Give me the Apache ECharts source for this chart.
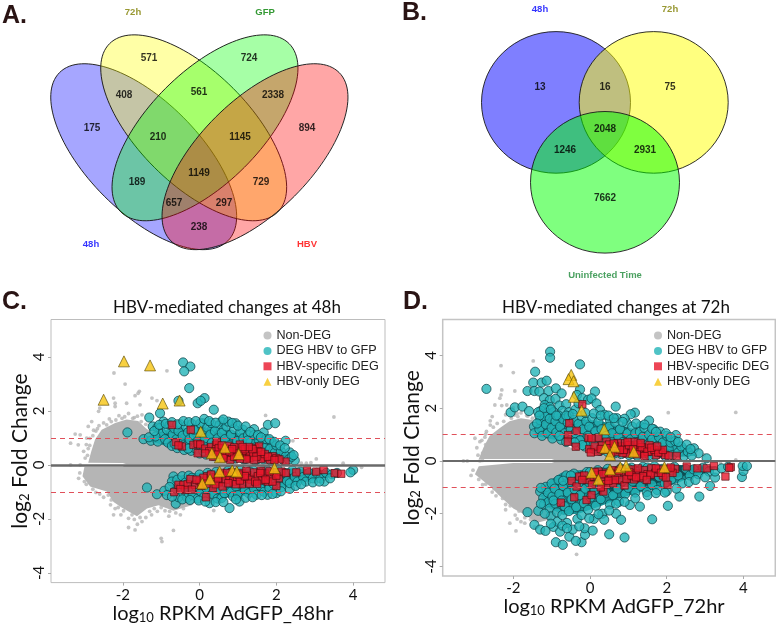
<!DOCTYPE html>
<html><head><meta charset="utf-8">
<style>html,body{margin:0;padding:0;background:#fff}#c{width:776px;height:625px}</style>
<script src="https://cdn.jsdelivr.net/npm/echarts@6/dist/echarts.min.js"></script>
</head><body><div id="c"></div>
<script>
// ---------- Venn counts ----------
const vennACounts=[571,724,408,561,2338,175,210,1145,894,1149,189,729,657,297,238];
const vennASetNames=['72h','GFP','48h','HBV'];
const vennBCounts=[13,16,75,2048,1246,2931,7662];
const vennBSetNames=['48h','72h','Uninfected Time'];
const xTicks=[-2,0,2,4];
const yTicks=[-4,-2,0,2,4];
// ---------- Panel C values (log10 RPKM, log2 FC) ----------
const cloudCUpper=[[-2.9,.08],[-2.82,.5],[-2.72,.95],[-2.55,1.3],[-2.2,1.55],[-1.9,1.68],[-1.6,1.62],[-1.4,1.35],[-1,.95],[0,.5],[1,.12],[1,.02],[-1.9,.02],[-2,.07]];
const cloudCLower=[[-3,-.08],[-3.05,-.42],[-2.85,-.8],[-2.42,-.99],[-2.24,-1.38],[-2.03,-1.58],[-1.63,-1.9],[-1.37,-1.62],[-1.07,-1.5],[-.68,-1.7],[-.2,-1.5],[1,-.12],[1,-.02],[-1.95,-.02],[-2,-.08]];
const tealCoreCUpper=[[-1.35,.9],[-1,1.25],[-.6,1.35],[0,1.4],[.6,1.35],[1.2,1.1],[1.7,.9],[2.1,.6],[2.45,.25],[2.4,.13],[1,.14],[.5,.2],[0,.35],[-.5,.52],[-1,.75]];
const tealCoreCLower=[[-.75,-.45],[-.7,-.95],[-.3,-1.1],[.3,-1.25],[1,-1.2],[1.6,-1],[2.3,-.8],[3,-.55],[3.6,-.38],[3.6,-.22],[2.5,-.13],[1,-.15],[.3,-.22],[-.3,-.35]];
const denseCUpper=[[-.2,.45],[.5,.55],[1.5,.5],[2.2,.3],[2.4,.14],[1,.15],[.3,.25]];
const denseCLower=[[-.2,-.45],[.5,-.8],[1.5,-.8],[2.5,-.5],[3,-.3],[2.5,-.14],[1,-.16],[.3,-.24]];
const grayC=[[-2.23,3.4],[-1.94,2.99],[-.85,3.48],[-1.57,2.72],[-1.6,2.65],[-1.24,2.47],[-1.11,2.38],[-2.24,2.47],[-2.2,2.28],[-2.2,2.16],[-2.6,2.1],[-2.63,1.98],[-1.68,2.56],[-1.9,2.28],[-1.55,2.22],[-3.11,1.11],[-3.24,1.14],[-3.36,.8],[-3.16,.74],[-3.36,0],[-3.11,0],[-2.94,.99],[-2.81,1.6],[-2.9,1.42],[-2.5,1.55],[-2.35,1.7],[-2.1,1.82],[-1.85,1.9],[-1.7,1.75],[-1.5,1.85],[-2.7,1.25],[-2.95,.75],[-3.02,.5],[-2.98,.25],[-2.62,1.45],[1.72,1.83],[3.5,1.77],[2.43,.89],[3.04,.22],[2.65,.06],[2.78,.06],[2.9,.08],[3.74,.06],[4.22,-.09],[.37,-1.69],[-.98,-2.84],[-1,-2.72],[-1.68,-2.41],[-1.85,-2.32],[-1.62,-2.2],[-.68,-2.43],[-2.24,-1.85],[-2.5,-1.2],[-2.7,-1.02],[-2.95,-.72],[-3.15,-.5],[-2.2,-1.62],[-2.05,-1.85],[-1.85,-1.98],[-1.4,-1.95],[-1.25,-1.85],[-1.1,-1.72],[-1.5,-2.1],[-.9,-1.7],[-.5,-1.85],[-.8,-1.9],
[-2.86,.72],[-2.78,1.08],[-2.66,1.34],[-2.42,1.48],[-2.3,1.6],[-2.02,1.72],[-1.74,1.72],[-1.52,1.6],[-1.62,1.8],[-1.95,1.78],[-2.18,1.66],[-1.4,1.5],[-1.28,1.3],[-2.76,1.28],[-2.9,.6],[-2.92,.35],[-2.86,.98],[-3.12,-.3],[-3.0,-.62],[-2.78,-.9],[-2.6,-1.08],[-2.38,-1.12],[-2.3,-1.3],[-2.32,-1.48],[-2.12,-1.58],[-1.98,-1.7],[-1.76,-1.85],[-1.7,-2.02],[-1.55,-1.95],[-1.3,-1.72],[-1.18,-1.62],[-1.0,-1.58],[-.78,-1.72],[-.62,-1.78],[-.42,-1.62]];
const tealC=[[-.43,3.79],[-.24,3.64],[-.4,3.46],[-.27,2.84],[-.55,2.37],[-.05,2.28],[-1.03,1.91],[-1.31,1.75],[-1.88,1.2],[.13,2.47],[.03,2.37],[.37,2.04],[.09,1.54],[.57,1.6],[.5,1.45],[.94,1.54],[.63,1.3],[.33,1.32],[1.13,1.3],[1.42,1.32],[1.67,1.2],[1.78,1.48],[1.97,1.54],[2.24,.89],[1.87,.86],[2.35,.46],[2.48,.16],
[-1.46,.95],[-1.27,.89],[-1.09,.86],[-1.22,1.42],[-1.1,1.38],[-.94,1.6],[-1.03,1.36],[-.98,1.15],[-1.15,1.05],[-.9,.95],[-.82,.82],[-.85,1.3],[-.78,1.48],[-.7,1.12],[-.72,.7],[-.66,1.35],[-.6,.95],[-.58,.62],[-.55,1.25],[-.5,1.5],[-.48,.82],[-.44,1.08],[-.4,.55],[-.36,1.42],[-.33,.72],[-.3,1.2],[-.26,.95],[-.22,.52],[-.2,1.52],[-.15,1.1],[-.12,.62],[-.08,1.35],[-.05,.88],[0,.42],[.02,1.54],[.06,1.2],[.1,.7],[.13,.98],[.17,.38],[.2,1.38],[.24,.58],[.28,1.12],[.32,.82],[.35,.34],[.4,1.25],[.43,.62],[.47,.98],[.5,.28],[.54,.78],[.58,1.18],[.62,.44],[.66,.95],[.7,1.42],[.74,.3],[.78,.72],[.82,1.12],[.86,.5],[.9,1.32],[.94,.24],[.98,.88],[1.02,.6],[1.06,1.2],[1.1,.32],[1.14,.98],[1.18,.72],[1.22,.22],[1.26,1.1],[1.3,.52],[1.34,.85],[1.38,.28],[1.42,1.1],[1.46,.65],[1.5,.2],[1.54,.92],[1.58,.42],[1.62,.75],[1.66,.2],[1.7,.62],[1.74,.95],[1.78,.35],[1.84,.6],[1.9,.2],[1.96,.45],[2,.72],[2.06,.28],[2.12,.5],[2.18,.18],[2.25,.32],[2.32,.2],[2.4,.3],[.3,1.55],[-.15,1.3],[.75,1.6],[1.25,.9],[-.65,.78],[-.3,.6],[.1,.5],[.45,.4],[.8,.26],[1.15,.2],[1.45,.16],[1.85,.16],
[-1.37,-.84],[-1.11,-1.09],[-.92,-.96],[-.62,-1.44],[-.68,-.43],[-.72,-.62],[-.78,-.82],[-.66,-1],[-.58,-.55],[-.55,-1.2],[-.5,-.85],[-.45,-.42],[-.42,-1.05],[-.36,-.65],[-.32,-1.22],[-.28,-.4],[-.24,-.92],[-.18,-1.12],[-.14,-.55],[-.1,-.8],[-.05,-1.25],[0,-.36],[.04,-1],[.08,-.62],[.12,-1.18],[.17,-.85],[.21,-.3],[.26,-1.42],[.3,-.55],[.34,-1.08],[.38,-.75],[.43,-.26],[.47,-1.25],[.52,-.9],[.57,-1.23],[.6,-.45],[.65,-1.05],[.7,-.68],[.74,-.22],[.78,-1.6],[.82,-1],[.87,-1.17],[.9,-.5],[.95,-.8],[1,-1.12],[1.04,-1.36],[1.08,-.2],[1.12,-.62],[1.18,-.95],[1.22,-.4],[1.28,-1.05],[1.33,-.7],[1.38,-.18],[1.42,-.88],[1.48,-1.11],[1.52,-.5],[1.58,-.78],[1.63,-.25],[1.68,-1],[1.72,-.6],[1.77,-1.11],[1.82,-.85],[1.88,-.35],[1.92,-.7],[2,-1.05],[2.03,-.16],[2.08,-.55],[2.14,-.82],[2.2,-.3],[2.28,-.6],[2.35,-.89],[2.35,-.68],[2.42,-.2],[2.48,-.45],[2.55,-.62],[2.62,-.25],[2.7,-.45],[2.77,-.62],[2.85,-.3],[2.95,-.5],[3.05,-.3],[3.15,-.5],[3.25,-.62],[3.3,-.3],[3.45,-.35],[3.58,-.3],[4,-.19],[3.93,-.28],[-.2,-.48],[.3,-.38],[.8,-.3],[1.3,-.24],[1.75,-.2],
[-1.32,1.02],[-1.18,1.25],[-1.05,1.48],[-.88,1.52],[-.72,1.58],[-.58,1.5],[-.42,1.62],[-.28,1.58],[-.1,1.62],[.12,1.7],[.25,1.62],[.42,1.56],[.62,1.68],[.85,1.55],[1.0,1.45],[1.2,1.42],[1.32,1.22],[1.52,1.1],[1.6,1.02],[1.82,.95],[1.95,.85],[2.1,.72],[2.22,.62],[2.45,.36],[-.85,-1.12],[-.72,-1.18],[-.45,-1.28],[-.25,-1.3],[-.02,-1.32],[.15,-1.36],[.42,-1.38],[.62,-1.38],[.95,-1.28],[1.2,-1.22],[1.38,-1.2],[1.62,-1.12],[1.9,-1.08],[2.12,-.98],[2.5,-.78],[2.65,-.72],[2.95,-.65],[3.12,-.62],[3.4,-.5]];
const redC=[[-.72,1.48],[-.23,1.3],[-.62,.84],[-.46,.68],[-.55,.72],[-.16,.74],[-.05,.78],[.02,.75],[-.05,.43],[.15,.6],[.3,.66],[.43,.74],[.45,.85],[.55,.48],[.65,.62],[.75,.7],[.72,.32],[.8,.19],[.85,.45],[.95,.55],[1.05,.75],[1.1,.38],[1.2,.3],[1.3,.25],[1.3,.5],[1.4,.4],[1.45,.62],[1.55,.68],[1.52,.5],[1.62,.35],[1.7,.25],[1.83,.19],[1.9,.32],[2,.25],[2.24,.12],[.98,.28],[1.12,.52],[1.6,.22],[.62,.38],
[.4,.5],[.5,.62],[.62,.25],[.9,.3],[.9,.65],[1.02,.42],[1.18,.58],[1.22,.2],[1.38,.58],[1.48,.3],[1.7,.4],[1.78,.3],[2.08,.2],[.35,.3],[.25,.5],[1.05,.22],[1.42,.18],[.78,.5],[.58,.72],[1.28,.66],[1.6,.48],[.15,.42],[1.95,.18],[.48,.38],[1.12,.66],[.85,.58],
[-.66,-1.01],[-.55,-.74],[-.42,-.74],[-.31,-.72],[-.24,-.53],[-.11,-.74],[-.37,-.93],[0,-.6],[.05,-.78],[.17,-1.2],[.2,-.42],[.32,-.6],[.42,-.45],[.5,-.65],[.62,-.38],[.68,-.55],[.78,-.42],[.88,-.62],[.98,-.45],[1.08,-.3],[1.15,-.52],[1.25,-.38],[1.35,-.55],[1.42,-.28],[1.52,-.42],[1.62,-.58],[1.7,-.32],[1.78,-.62],[1.85,-.42],[1.95,-.28],[2,-.78],[2.06,-.49],[2.13,-.25],[2.52,-.28],[2.8,-.21],[3.04,-.25],[3.23,-.19],[3.52,-.31],[3.69,-.33],[-.2,-.92],[1.1,-.72],[.35,-.85],[1.6,-.22],[2.25,-.3],
[.1,-.48],[.18,-.7],[.42,-.72],[.56,-.3],[.6,-.8],[.75,-.68],[.85,-.28],[.95,-.72],[1.05,-.58],[1.22,-.22],[1.3,-.7],[1.45,-.62],[1.58,-.3],[1.9,-.62],[1.72,-.55],[2.0,-.4],[-.08,-.55],[-.5,-.9],[.3,-.36],[.72,-.3],[1.18,-.42],[1.5,-.7],[1.82,-.24],[.48,-.5],[1.02,-.36]];
const yellowC=[[-1.97,3.83],[-1.29,3.68],[-2.5,2.41],[-.96,2.27],[-.52,2.38],[.03,1.23],[.32,.43],[.66,.64],[.53,.28],[1.02,.4],[.52,-.25],[.85,-.21],[.97,-.25],[1.95,-.12],[.27,-.53],[.07,-.69]];
// ---------- Panel D values ----------
const cloudDUpper=[[-2.9,.07],[-2.78,.5],[-2.62,.95],[-2.35,1.25],[-2.1,1.5],[-1.8,1.62],[-1.5,1.55],[-1.3,1.2],[-.5,.5],[.8,.12],[.8,.02],[-.9,.02],[-1,.07]];
const cloudDLower=[[-3,-.5],[-2.9,-.2],[-2,-.08],[-1,-.08],[-.9,-.02],[.8,-.02],[.8,-.12],[-.2,-1],[-1,-2.2],[-1.4,-2.35],[-1.65,-2.08],[-2,-1.8],[-2.34,-1.35],[-2.6,-.97]];
const tealCoreDUpper=[[-1.45,.95],[-1.4,1.55],[-1.1,2],[-.7,1.7],[-.3,1.6],[.3,1.5],[.9,1.3],[1.5,1.1],[2,.85],[2.5,.45],[2.8,.2],[2,.14],[1,.18],[.3,.3],[-.2,.5],[-.7,.75]];
const tealCoreDLower=[[-.75,-.45],[-1.15,-.85],[-1.3,-1.3],[-1.1,-1.75],[-.7,-2.05],[-.3,-2],[.3,-1.7],[.8,-1.4],[1.4,-1.15],[2,-1],[2.6,-.65],[3.2,-.4],[3.3,-.2],[2.2,-.14],[1,-.18],[.3,-.26],[-.3,-.35]];
const denseDUpper=[[-.1,.5],[.6,.8],[1.6,.65],[2.3,.35],[2.6,.17],[1,.18],[.3,.3]];
const denseDLower=[[-.4,-.5],[0,-1.3],[.6,-1.2],[1.6,-.9],[2.6,-.5],[3.1,-.25],[2.2,-.14],[1,-.18],[.3,-.26]];
const grayD=[[-2.32,3.61],[-2,3.35],[-1.48,3.79],[-1.96,2.65],[-2.3,2.69],[-2.32,2.5],[-2.35,2.38],[-2.48,2.12],[-2.3,2.1],[-2.17,2.12],[-2,2.02],[-1.96,1.74],[-1.65,1.72],[-2.55,1.68],[-2.6,1.52],[-2.6,1.36],[-2.74,.9],[-2.7,1.12],[-3,.86],[-2.87,.73],[-2.95,.5],[-3.3,0],[-3.2,0],[-2.87,0],[-2.8,.02],[-1.9,1.8],[-1.8,1.82],[-2.2,1.75],[-1.4,1.7],[2.04,1.83],[3.8,1.84],[3.8,.04],[3.4,-.08],[2.97,.23],[.42,-2.05],[-.35,-3.54],[-2.09,-2.36],[-1.93,-2.65],[-1.22,-2.74],[-2.55,-1.18],[-2.45,-1.32],[-2.2,-1.65],[-2.2,-1.85],[-1.95,-2.05],[-1.8,-2.3],[-1.7,-2.36],[-1.45,-2.5],[-3.1,-.55],[-2.8,-.9],[-2.42,-.95],[-3.05,-.35],[-2.15,-1.42],[-1.9,-2.2],
[-2.82,.78],[-2.72,1.02],[-2.52,1.28],[-2.42,1.42],[-2.25,1.5],[-2.05,1.62],[-1.88,1.68],[-1.62,1.7],[-1.5,1.62],[-2.8,.3],[-2.92,.22],[-2.72,.62],[-2.9,-.7],[-2.72,-.88],[-2.35,-1.22],[-2.28,-1.42],[-2.08,-1.7],[-1.85,-1.9],[-1.7,-2.15],[-1.55,-2.22],[-2.5,-1.05]];
const tealD=[[-1.04,4.14],[-1.04,3.91],[-.26,3.66],[-1.43,3.38],[-2.7,2.73],[-1.48,2.97],[-1.26,2.97],[-1.13,3.04],[-1.63,2.65],[-1.45,2.65],[-1.32,2.63],[-1.08,2.65],[-.89,2.75],[-.74,2.56],[-.26,2.71],[-.34,2.5],[-2.07,1.84],[-1.96,2.03],[-1.76,2.06],[-1.59,1.89],[-1.2,2.38],[-1.05,2.3],[-.9,2.35],[-1.18,2.12],[-1.05,2.05],[-.8,2.1],[-.62,2.15],[-1.28,1.9],[-1.12,1.82],[-.95,1.85],[-.72,1.9],[-.55,1.85],[-.38,1.95],[-.3,2.18],[-.2,2.38],[-.05,2.32],[.13,2.63],[.04,2.37],[.17,2.18],[.67,2.06],[.26,1.93],[1.17,1.83],[1.06,1.77],[1.54,1.53],[.7,1.62],[.96,1.43],[.52,1.55],[1.83,1.11],[2.24,.98],[1.32,1.32],[2.24,.5],[2.71,.48],[2.83,.29],[3.04,.1],[2.46,.42],
[-1.46,1.3],[-1.45,1.05],[-1.3,1.55],[-1.32,1.2],[-1.25,.95],[-1.18,1.7],[-1.15,1.38],[-1.1,1.05],[-1.05,1.6],[-1,1.25],[-.98,.85],[-.9,1.5],[-.88,1.08],[-.82,1.72],[-.78,1.3],[-.75,.8],[-.7,1.58],[-.66,1.05],[-.62,.72],[-.58,1.45],[-.55,1.7],[-.5,1.2],[-.46,.85],[-.42,1.55],[-.38,1.05],[-.34,.6],[-.3,1.4],[-.26,.78],[-.22,1.7],[-.18,1.2],[-.14,.55],[-.1,1.5],[-.06,.95],[-.02,1.3],[.02,.68],[.06,1.62],[.1,.45],[.14,1.12],[.18,.85],[.22,1.48],[.26,.38],[.3,1.2],[.34,.65],[.38,1.75],[.42,.95],[.46,.34],[.5,1.3],[.54,.75],[.58,1.05],[.62,.28],[.66,1.45],[.7,.58],[.74,.92],[.78,1.2],[.82,.26],[.86,.72],[.9,1.6],[.94,.45],[.98,1.05],[1.02,.22],[1.06,.82],[1.1,1.3],[1.14,.55],[1.18,1.05],[1.22,.2],[1.26,.72],[1.3,1.1],[1.34,.38],[1.38,.92],[1.42,1.25],[1.46,.2],[1.5,.62],[1.54,1],[1.58,.35],[1.62,.82],[1.66,1.2],[1.7,.2],[1.74,.55],[1.8,.9],[1.85,.3],[1.9,.7],[1.96,.18],[2,.95],[2.05,.45],[2.1,.7],[2.15,.22],[2.22,.75],[2.3,.32],[2.38,.55],[2.45,.18],[2.55,.35],[2.65,.2],[-.8,.95],[-.2,.6],[.3,.42],[.7,.32],[1.1,.26],[1.55,.22],[-.4,.7],[.1,.62],
[-1.3,-1.16],[-1.63,-1.94],[-1.35,-1.89],[-1.45,-2.42],[-1.3,-2.6],[-1.16,-2.65],[-.89,-3.08],[-.71,-3.18],[-.54,-2.87],[-.22,-3.08],[-.37,-3.03],[-.13,-2.8],[-1.22,-1.4],[-1.2,-1.65],[-1.15,-.98],[-1.1,-1.2],[-1.08,-1.55],[-1.05,-1.8],[-1.02,-2.1],[-1,-.85],[-.98,-1.35],[-.95,-2.5],[-.92,-1.05],[-.9,-1.62],[-.86,-1.95],[-.85,-2.3],[-.82,-.72],[-.8,-1.25],[-.78,-2.68],[-.74,-1.5],[-.72,-2.05],[-.7,-.95],[-.66,-1.72],[-.62,-.55],[-.6,-2.35],[-.58,-1.2],[-.55,-1.9],[-.52,-.8],[-.48,-1.45],[-.45,-2.6],[-.42,-.48],[-.4,-1.08],[-.36,-1.75],[-.33,-2.2],[-.3,-.85],[-.26,-1.3],[-.22,-2.05],[-.2,-.6],[-.16,-1.6],[-.14,-2.55],[-.12,-1.05],[-.08,-.42],[-.05,-1.85],[-.02,-.82],[.02,-1.38],[.07,-2.64],[.06,-.55],[.1,-2.2],[.12,-1.1],[.15,-1.7],[.2,-.35],[.24,-.9],[.28,-1.45],[.32,-2],[.37,-2.23],[.36,-.6],[.42,-1.2],[.46,-.3],[.5,-2.78],[.52,-1.65],[.56,-.85],[.6,-1.3],[.64,-.45],[.68,-2],[.72,-1.05],[.76,-1.55],[.81,-2.23],[.8,-.28],[.85,-.75],[.9,-2.9],[.92,-1.25],[.96,-.5],[1,-1.02],[1.04,-1.67],[1.08,-.25],[1.12,-.78],[1.18,-1.2],[1.24,-.42],[1.3,-1.73],[1.32,-.95],[1.38,-.22],[1.42,-.68],[1.48,-1.18],[1.55,-.45],[1.62,-2.21],[1.62,-.9],[1.68,-.2],[1.75,-1.1],[1.8,-.6],[1.88,-.3],[1.95,-.85],[2.03,-1.7],[2,-1.15],[2.05,-.45],[2.12,-.7],[2.2,-.22],[2.33,-1.35],[2.3,-.55],[2.4,-.85],[2.5,-.3],[2.6,-.55],[2.7,-.32],[2.85,-1.35],[2.82,-.5],[2.95,-.25],[3.13,-.95],[3.1,-.4],[3.26,-.63],[3.26,-.4],[3.43,-.28],[3.6,-.22],[3.96,-.61],[4,-.38],[3.98,-.19],[4.09,-.19],[-.5,-.55],[0,-.42],[.5,-.42],[1,-.3],[1.5,-.25],[-.7,-.75],[-.25,-.62],[.35,-.45],[.75,-.5],
[-1.35,1.85],[-1.2,2.0],[-1.32,1.72],[-1.02,1.95],[-.88,1.72],[-.62,1.72],[-.45,1.78],[-.12,1.82],[.1,1.8],[.28,1.72],[.48,1.72],[.62,1.62],[.85,1.48],[1.2,1.42],[1.42,1.38],[1.62,1.22],[1.72,1.1],[1.98,1.05],[2.1,.9],[2.3,.72],[2.52,.62],[2.62,.45],[-1.38,1.42],[-.95,-1.5],[-1.28,-1.02],[-1.28,-1.62],[-1.18,-2.0],[-1.02,-2.38],[-.72,-2.45],[-.6,-2.55],[-.28,-2.48],[-.02,-2.18],[.22,-2.02],[.5,-1.88],[.68,-1.62],[.9,-1.55],[1.18,-1.42],[1.5,-1.3],[1.72,-1.22],[1.95,-1.2],[2.25,-1.05],[2.58,-.8],[2.75,-.72],[3.0,-.62]];
const redD=[[-.54,1.43],[-.35,1.14],[-.57,.98],[-.58,.73],[-.37,.54],[-.04,.88],[-.02,.45],[-.2,2.15],[.22,.88],[.04,.86],[.43,.73],[.5,.62],[.6,.42],[.7,.35],[.8,.55],[.91,.67],[1,.45],[1.1,.3],[1.2,.5],[1.3,.38],[1.4,.28],[1.45,.5],[1.55,.6],[1.62,.35],[1.72,.22],[1.85,.32],[1.96,.23],[2.26,.19],[.3,.58],[.2,.35],[.72,.68],[.95,.28],[1.25,.62],
[.38,.42],[.55,.3],[.65,.55],[.85,.3],[.88,.42],[1.02,.6],[1.12,.45],[1.22,.25],[1.35,.52],[1.5,.35],[1.68,.42],[1.78,.32],[2.05,.2],[.12,.55],[.02,.32],[1.15,.72],[1.42,.18],[.78,.42],[.48,.48],[1.32,.68],[1.6,.5],[.98,.72],[1.9,.42],[.28,.45],[.62,.66],[1.75,.55],
[-.28,-.59],[-.48,-.76],[-.35,-.97],[-.04,-.72],[-.41,-1.38],[-.76,-1.58],[-.09,-1.48],[-.15,-.55],[.1,-.6],[.22,-.4],[.3,-.78],[.35,-1.16],[.04,-1.29],[.42,-.45],[.5,-.62],[.6,-.35],[.7,-.5],[.78,-.72],[.9,-.93],[.9,-.42],[1,-.58],[1.1,-.32],[1.2,-.48],[1.3,-.65],[1.4,-.35],[1.5,-.5],[1.6,-.28],[1.7,-.45],[1.8,-.32],[1.9,-.55],[2,-.3],[2.02,-.9],[2.22,-.3],[2.15,-.45],[2.52,-.21],[2.8,-.28],[3.04,-.28],[3.23,-.19],[3.67,-.23],[3.63,-.26],[3.53,-.59],[1.15,-.7],[.6,-.85],
[.05,-.9],[.18,-.55],[.42,-.88],[.55,-.48],[.65,-.72],[.82,-.3],[.95,-.68],[1.08,-.55],[1.25,-.28],[1.38,-.58],[1.58,-.52],[1.72,-.28],[1.85,-.45],[2.1,-.25],[-.2,-.72],[.28,-1.0],[.32,-.5],[.75,-.38],[1.2,-.62],[1.48,-.72],[1.98,-.62],[.12,-.42],[.48,-.75],[1.02,-.42]];
const yellowD=[[-.49,3.26],[-.56,3.1],[-.43,3.02],[-.42,2.43],[-.22,1.91],[.37,1.2],[.39,.5],[.64,.54],[.52,.23],[1.14,.35],[.04,-.44],[.22,-.7],[.52,-.32],[.79,-.24],[.94,-.18],[1.94,-.24]];

// ---------- Layout only ----------
const vennAEllipses=[[143.7,156.7,119,55.8,-45,'rgba(0,0,255,.35)'],[193.7,127.8,119,55.8,-45,'rgba(255,255,0,.35)'],[205,127.8,119,55.8,45,'rgba(0,255,0,.35)'],[255,156.7,119,55.8,45,'rgba(255,0,0,.35)']];
const vennAPos=[[149,58],[249,58],[124,95],[199,92],[273,95],[92,128],[158,137],[240,137],[307,128],[199,173],[137,182],[261,182],[174,203],[224,203],[199,227]];
const vennASetPos=[[133,12,'#808000'],[265,12,'#008000'],[91,244,'#0000ff'],[307,244,'#ff0000']];
const vennBCircles=[[556,102.4,74.5,70.8,0,'rgba(0,0,255,.5)'],[653.7,102.4,74.5,70.8,0,'rgba(255,255,0,.5)'],[605,182.3,74.5,70.8,0,'rgba(0,255,0,.5)']];
const vennBPos=[[540,87],[605,87],[670,87],[605,129],[565,150],[645,150],[605,198]];
const vennBSetPos=[[540,9,'#0000ff'],[670,9,'#808000'],[605,275,'#1e8a3a']];

const serif='Lato, "Open Sans", sans-serif', sans='"Liberation Sans", Arial, sans-serif';
const grids=[
 {left:0,top:0,width:776,height:625},
 {left:51,top:319.5,width:334,height:263.5},
 {left:442.7,top:319.5,width:332.6,height:256.5}
];
function hiddenX(){return {gridIndex:0,type:'value',min:0,max:776,show:false}}
function hiddenY(){return {gridIndex:0,type:'value',min:0,max:625,inverse:true,show:false}}
function xAx(i,min,max,label){return {gridIndex:i,type:'value',position:'bottom',min,max,scale:false,splitLine:{show:false},
  axisLine:{show:false,onZero:false},axisTick:{show:true,length:3,customValues:xTicks,lineStyle:{color:'#aaa'}},
  axisLabel:{customValues:xTicks,color:'#111',fontFamily:serif,fontSize:15,margin:5},
  name:'{a|log}{s|10}{a| RPKM AdGFP_'+label+'}',nameLocation:'middle',nameGap:20,
  nameTextStyle:{rich:{a:{fontFamily:serif,fontSize:20,color:'#111'},s:{fontFamily:serif,fontSize:13,color:'#111',padding:[8,0,0,0]}},padding:[0,0,0,10]}}}
function yAx(i,min,max){return {gridIndex:i,type:'value',position:'left',min,max,splitLine:{show:false},
  axisLine:{show:false,onZero:false},axisTick:{show:true,length:3,customValues:yTicks,lineStyle:{color:'#aaa'}},
  axisLabel:{customValues:yTicks,color:'#111',fontFamily:serif,fontSize:15,rotate:90,margin:4},
  name:'{a|log}{s|2}{a| Fold Change}',nameLocation:'middle',nameGap:18,nameRotate:90,
  nameTextStyle:{rich:{a:{fontFamily:serif,fontSize:21,color:'#111'},s:{fontFamily:serif,fontSize:13,color:'#111',padding:[8,0,0,0]}}}}}

function polySeries(outline,i,fill,z){return {name:'area',type:'custom',coordinateSystem:'cartesian2d',xAxisIndex:i,yAxisIndex:i,silent:true,z,
  data:outline,encode:{x:0,y:1},renderItem(p,api){ if(p.dataIndex!==0) return null;
    return {type:'polygon',shape:{points:outline.map(q=>api.coord(q))},style:{fill}}; }}}
function ellipseSeries(list){return {name:'venn',type:'custom',coordinateSystem:'cartesian2d',xAxisIndex:0,yAxisIndex:0,silent:true,z:2,
  data:list.map(e=>e.slice(0,5)),encode:{x:0,y:1},renderItem(p,api){
    const c=api.coord([api.value(0),api.value(1)]),e=list[p.dataIndex];
    return {type:'ellipse',x:c[0],y:c[1],rotation:api.value(4)*Math.PI/180,shape:{cx:0,cy:0,rx:api.value(2),ry:api.value(3)},
      style:{fill:e[5],stroke:'#1a1a1a',lineWidth:.9}}; }}}
function labelSeries(pos,texts,color,size){return {name:'lab',type:'scatter',xAxisIndex:0,yAxisIndex:0,silent:true,symbolSize:0,z:5,
  data:pos.map((q,k)=>({value:[q[0],q[1]],label:{show:true,position:'inside',formatter:String(texts[k]),
    color:color||q[2],fontFamily:sans,fontWeight:'bold',fontSize:size}}))}}
function panel(i,cu,cl,tu,tl,du,dl,gray,teal,red,yellow,lw){return [
  polySeries(cu,i,'#b5b5b5',2),polySeries(cl,i,'#b5b5b5',2),
  {name:'Non-DEG',type:'scatter',xAxisIndex:i,yAxisIndex:i,z:2,silent:true,data:gray,symbolSize:3.8,itemStyle:{color:'#b5b5b5'},
   markLine:{silent:true,symbol:['none','none'],animation:false,label:{show:false},emphasis:{disabled:true},
    data:[{yAxis:0,lineStyle:{color:'#6a6a6a',width:lw,type:'solid'}},{yAxis:1,lineStyle:{color:'#e0505a',width:1,type:[5,4]}},{yAxis:-1,lineStyle:{color:'#e0505a',width:1,type:[5,4]}}]}},
  polySeries(tu,i,'#1a8f93',3),polySeries(tl,i,'#1a8f93',3),
  {name:'DEG HBV to GFP',type:'scatter',xAxisIndex:i,yAxisIndex:i,z:3,silent:true,data:teal,symbolSize:9.2,itemStyle:{color:'#23b4b8',borderColor:'#0d3f44',borderWidth:.9}},
  polySeries(du,i,'rgba(5,30,35,.55)',3),polySeries(dl,i,'rgba(5,30,35,.55)',3),
  {name:'HBV-specific DEG',type:'scatter',xAxisIndex:i,yAxisIndex:i,z:4,silent:true,data:red,symbol:'rect',symbolSize:7.4,itemStyle:{color:'#e8182c',borderColor:'#4a0c10',borderWidth:.8}},
  {name:'HBV-only DEG',type:'scatter',xAxisIndex:i,yAxisIndex:i,z:5,silent:true,data:yellow,symbol:'triangle',symbolSize:11,itemStyle:{color:'#f6c412',borderColor:'#5a4800',borderWidth:.8}}
]}
const legendNames=['Non-DEG','DEG HBV to GFP','HBV-specific DEG','HBV-only DEG'];
function legend(left,top){return {data:legendNames.map(n=>({name:n,itemStyle:{borderWidth:0}})),orient:'vertical',left,top,itemWidth:8,itemHeight:8,itemGap:2.4,padding:0,
  selectedMode:false,textStyle:{fontFamily:sans,fontSize:12.6,color:'#222'}}}
function letter(t,x,y){return {text:t,left:x,top:y,padding:0,textStyle:{fontFamily:sans,fontWeight:'bold',fontSize:25,color:'#2a1414'}}}
function heading(t,x){return {text:t,left:x,top:299,padding:0,textAlign:'center',textStyle:{fontFamily:serif,fontWeight:'normal',fontSize:17,color:'#111'}}}

const option={animation:false,backgroundColor:'#fff',
 grid:[{...grids[0],show:false},{...grids[1],show:true,borderColor:'#bdbdbd',borderWidth:1,backgroundColor:'transparent'},{...grids[2],show:true,borderColor:'#c4c4c4',borderWidth:1.5,backgroundColor:'transparent'}],
 xAxis:[hiddenX(),xAx(1,-3.87,4.83,'48hr'),xAx(2,-3.84,4.83,'72hr')],
 yAxis:[hiddenY(),yAx(1,-4.36,5.38),yAx(2,-4.36,5.36)],
 title:[letter('A.',2,4),letter('B.',402,1),letter('C.',2,290),letter('D.',403,290),
   heading('HBV-mediated changes at 48h',227),heading('HBV-mediated changes at 72h',616)],
 legend:[legend(263.5,329),legend(654,329)],
 series:[ellipseSeries(vennAEllipses),ellipseSeries(vennBCircles),
   labelSeries(vennAPos,vennACounts,'#000',10),labelSeries(vennBPos,vennBCounts,'#000',10),
   labelSeries(vennASetPos,vennASetNames,null,9.5),labelSeries(vennBSetPos,vennBSetNames,null,9.5),
   ...panel(1,cloudCUpper,cloudCLower,tealCoreCUpper,tealCoreCLower,denseCUpper,denseCLower,grayC,tealC,redC,yellowC,2.5),
   ...panel(2,cloudDUpper,cloudDLower,tealCoreDUpper,tealCoreDLower,denseDUpper,denseDLower,grayD,tealD,redD,yellowD,2)]
};
echarts.init(document.getElementById('c'),null,{renderer:'canvas'}).setOption(option);
</script></body></html>
